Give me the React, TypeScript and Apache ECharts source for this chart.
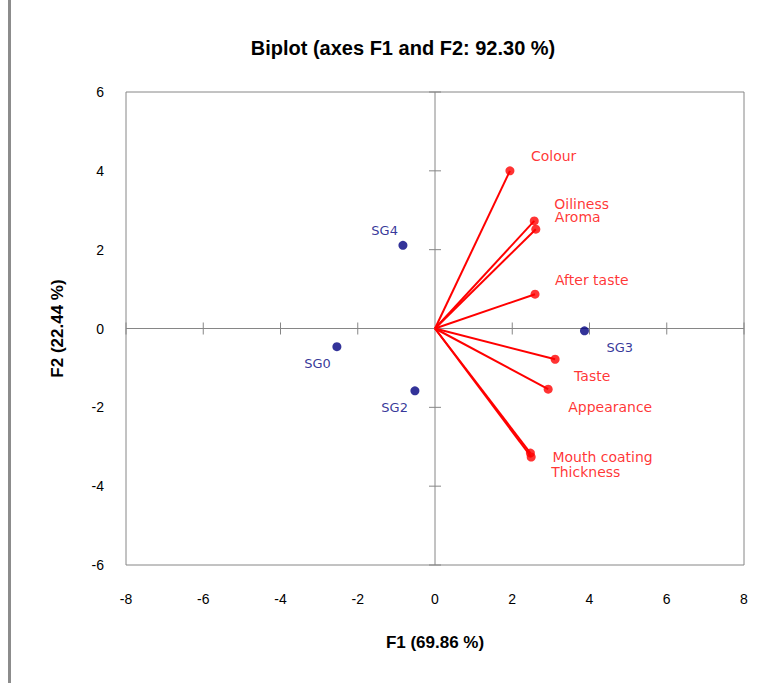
import React, { useEffect, useRef } from "react";
import * as echarts from "echarts";

const titleText = "Biplot (axes F1 and F2: 92.30 %)";
const xAxisName = "F1 (69.86 %)";
const yAxisName = "F2 (22.44 %)";

const xTicks = [-8, -6, -4, -2, 0, 2, 4, 6, 8];
const yTicks = [-6, -4, -2, 0, 2, 4, 6];

const varNames = ["Colour", "Oiliness", "Aroma", "After taste", "Taste", "Appearance", "Mouth coating", "Thickness"];
const varF1 = [1.94, 2.57, 2.61, 2.59, 3.11, 2.93, 2.47, 2.49];
const varF2 = [4.0, 2.73, 2.52, 0.87, -0.78, -1.54, -3.16, -3.26];

const obsNames = ["SG0", "SG2", "SG3", "SG4"];
const obsF1 = [-2.54, -0.52, 3.87, -0.83];
const obsF2 = [-0.46, -1.58, -0.06, 2.11];

// label placement (pixel offsets from point, styling only)
const varLabelOffsets: [number, number][] = [
  [21, -15], [20, -16.5], [19, -12], [20, -14], [19, 17], [20, 18], [22, 4], [20, 15],
];
const obsLabelOffsets: { off: [number, number]; align: string }[] = [
  { off: [-6, 17], align: "right" },
  { off: [-7, 17], align: "right" },
  { off: [22, 17], align: "left" },
  { off: [-5, -15], align: "right" },
];

const AXIS_GRAY = "#868686";
const RED = "#FF0000";
const NAVY = "#000080";

export default function App() {
  const ref = useRef<HTMLDivElement>(null);
  useEffect(() => {
    if (!ref.current) return;
    const chart = echarts.init(ref.current, null, { renderer: "svg" });
    const xMin = xTicks[0];
    const xMax = xTicks[xTicks.length - 1];
    const yMin = yTicks[0];
    const yMax = yTicks[yTicks.length - 1];

    const varData = varNames.map((n, i) => ({
      name: n,
      value: [varF1[i], varF2[i]],
      label: {
        show: true,
        formatter: n,
        position: "inside",
        offset: varLabelOffsets[i],
        align: "left",
        verticalAlign: "middle",
      },
    }));
    const obsData = obsNames.map((n, i) => ({
      name: n,
      value: [obsF1[i], obsF2[i]],
      label: {
        show: true,
        formatter: n,
        position: "inside",
        offset: obsLabelOffsets[i].off,
        align: obsLabelOffsets[i].align,
        verticalAlign: "middle",
      },
    }));

    chart.setOption({
      animation: false,
      backgroundColor: "#ffffff",
      title: {
        text: titleText,
        left: 398,
        top: 33,
        textAlign: "center",
        textStyle: { fontFamily: "Liberation Sans", fontWeight: "bold", fontSize: 20, color: "#000" },
      },
      graphic: [
        { type: "rect", left: 8, top: 0, shape: { width: 3, height: 683 }, style: { fill: "#8c8c8c" }, silent: true },
      ],
      grid: {
        left: 126,
        right: 21,
        top: 92,
        bottom: 118,
        show: true,
        borderColor: AXIS_GRAY,
        borderWidth: 1,
        backgroundColor: "transparent",
      },
      xAxis: {
        type: "value",
        min: xMin,
        max: xMax,
        interval: 2,
        position: "bottom",
        axisLine: { show: false, onZero: false },
        axisTick: { show: false },
        splitLine: { show: false },
        axisLabel: { margin: 27, fontFamily: "Liberation Sans", fontSize: 14, color: "#000" },
        name: xAxisName,
        nameLocation: "middle",
        nameGap: 69,
        nameTextStyle: { fontFamily: "Liberation Sans", fontWeight: "bold", fontSize: 17, color: "#000" },
      },
      yAxis: {
        type: "value",
        min: yMin,
        max: yMax,
        interval: 2,
        position: "left",
        axisLine: { show: false, onZero: false },
        axisTick: { show: false },
        splitLine: { show: false },
        axisLabel: { margin: 22, fontFamily: "Liberation Sans", fontSize: 14, color: "#000" },
        name: yAxisName,
        nameLocation: "middle",
        nameGap: 60,
        nameRotate: 90,
        nameTextStyle: { fontFamily: "Liberation Sans", fontWeight: "bold", fontSize: 17, color: "#000" },
      },
      series: [
        {
          type: "custom",
          name: "axes",
          silent: true,
          data: [[0, 0]],
          renderItem: (params: any, api: any) => {
            const children: any[] = [];
            const style = { stroke: AXIS_GRAY, lineWidth: 1 };
            const l = api.coord([xMin, 0]);
            const r = api.coord([xMax, 0]);
            const t = api.coord([0, yMax]);
            const b = api.coord([0, yMin]);
            children.push({ type: "line", shape: { x1: l[0], y1: l[1], x2: r[0], y2: r[1] }, style });
            children.push({ type: "line", shape: { x1: t[0], y1: t[1], x2: b[0], y2: b[1] }, style });
            xTicks.forEach((v) => {
              if (v === 0) return;
              const p = api.coord([v, 0]);
              children.push({ type: "line", shape: { x1: p[0], y1: p[1] - 6, x2: p[0], y2: p[1] + 6 }, style });
            });
            yTicks.forEach((v) => {
              if (v === 0) return;
              const p = api.coord([0, v]);
              children.push({ type: "line", shape: { x1: p[0] - 6, y1: p[1], x2: p[0] + 6, y2: p[1] }, style });
            });
            return { type: "group", children };
          },
          z: 1,
        },
        {
          type: "custom",
          name: "vectors",
          silent: true,
          data: varNames.map((n, i) => [varF1[i], varF2[i]]),
          renderItem: (params: any, api: any) => {
            const o = api.coord([0, 0]);
            const p = api.coord([api.value(0), api.value(1)]);
            return {
              type: "line",
              shape: { x1: o[0], y1: o[1], x2: p[0], y2: p[1] },
              style: { stroke: RED, lineWidth: 2 },
            };
          },
          z: 2,
        },
        {
          type: "scatter",
          name: "Variables",
          symbol: "circle",
          symbolSize: 9,
          itemStyle: { color: RED },
          label: { fontFamily: "DejaVu Sans", fontSize: 14, color: RED },
          data: varData,
          z: 3,
        },
        {
          type: "scatter",
          name: "Observations",
          symbol: "circle",
          symbolSize: 9,
          itemStyle: { color: NAVY },
          label: { fontFamily: "DejaVu Sans", fontSize: 13, color: NAVY },
          data: obsData,
          z: 3,
        },
      ],
    });
    return () => chart.dispose();
  }, []);
  return (
    <div
      ref={ref}
      style={{ position: "absolute", left: 0, top: 0, width: 765, height: 683 }}
    />
  );
}
